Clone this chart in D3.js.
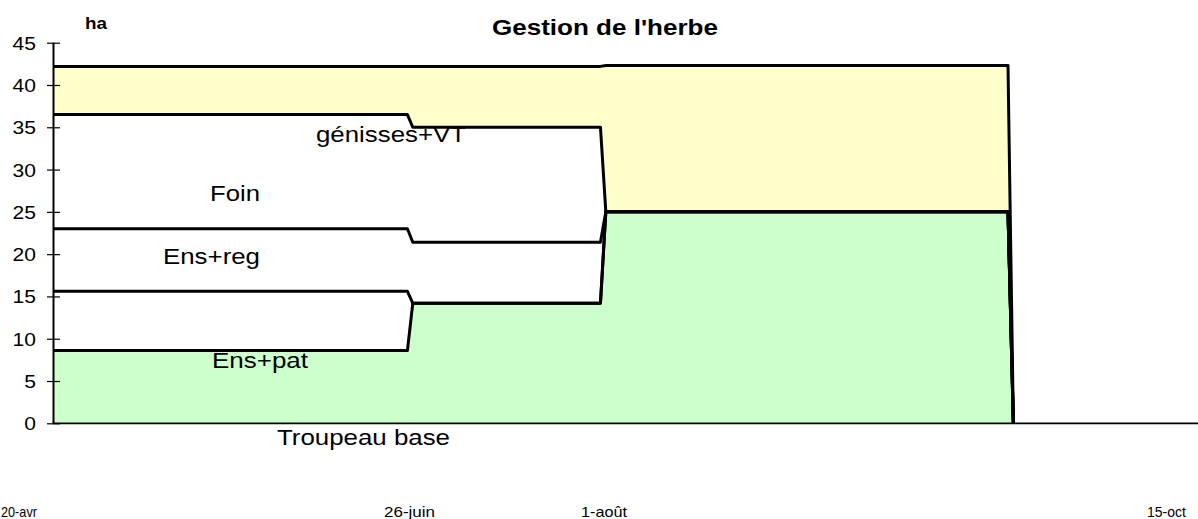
<!DOCTYPE html>
<html>
<head>
<meta charset="utf-8">
<script src="https://cdn.jsdelivr.net/npm/d3@7"></script>
<style>
  html, body { margin: 0; padding: 0; background: #fff; }
  svg { display: block; font-family: "Liberation Sans", Arial, sans-serif; }
</style>
</head>
<body>
<svg id="chart" width="1198" height="519"></svg>
<script>
// ---- data (days after 20-avr) ----
const days = [0, 66, 67, 102, 103, 178, 179];
const troupeauBase = [8.6, 8.6, 14.2, 14.2, 25.0, 25.0, 0];
const ensPat       = [7.0, 7.0, 0,    0,    0,    0,    0];
const ensReg       = [7.4, 7.4, 7.2,  7.2,  0,    0,    0];
const foin         = [13.5, 13.5, 13.6, 13.6, 0,  0,    0];
const genissesVT   = [5.7, 5.7, 7.2,  7.2,  17.3, 17.3, 0];
const seriesNames = ["Troupeau base", "Ens+pat", "Ens+reg", "Foin", "génisses+VT"];
const yTicks = [0, 5, 10, 15, 20, 25, 30, 35, 40, 45];
const xTickLabels = ["20-avr", "26-juin", "1-août", "15-oct"];
const title = "Gestion de l'herbe";
const yUnit = "ha";

// ---- styles / layout ----
const fills = ["#CCFFCC", "#FFFFFF", "#FFFFFF", "#FFFFFF", "#FFFFCC"];
const svg = d3.select("#chart");
const x = d3.scaleLinear().domain([0, 178]).range([53.5, 1008]);
const y = d3.scaleLinear().domain([0, 45]).range([423.3, 42.7]);

const rows = days.map((d, i) => ({
  day: d,
  [seriesNames[0]]: troupeauBase[i],
  [seriesNames[1]]: ensPat[i],
  [seriesNames[2]]: ensReg[i],
  [seriesNames[3]]: foin[i],
  [seriesNames[4]]: genissesVT[i]
}));
const stacked = d3.stack().keys(seriesNames)(rows);

const area = d3.area().x(d => x(d.data.day)).y0(d => y(d[0])).y1(d => y(d[1]));
const line = d3.line().x(d => x(d.data.day)).y(d => y(d[1]));

svg.append("g").selectAll("path").data(stacked).join("path")
  .attr("d", area).attr("fill", (d, i) => fills[i]).attr("stroke", "none");

// axes
const yAxis = d3.axisLeft(y).tickValues(yTicks).tickSize(0).tickPadding(0);
const gy = svg.append("g").attr("transform", `translate(${x(0)},0)`).call(yAxis);
gy.select(".domain").remove();
gy.selectAll(".tick line").attr("x1", -6.5).attr("x2", 6.5).attr("stroke", "#000").attr("stroke-width", 1.2);
gy.selectAll(".tick text")
  .attr("x", -15).attr("dy", "0.36em")
  .attr("transform", "scale(1.17,1)")
  .attr("font-size", 18).attr("fill", "#000")
  .attr("font-family", "'Liberation Sans', Arial, sans-serif");

svg.append("line").attr("x1", x(0)).attr("x2", x(0)).attr("y1", y(45)).attr("y2", y(0))
  .attr("stroke", "#000").attr("stroke-width", 2);
svg.append("line").attr("x1", x(0) - 1).attr("x2", 1198).attr("y1", y(0)).attr("y2", y(0))
  .attr("stroke", "#000").attr("stroke-width", 1.8);

// series boundary lines
svg.append("g").selectAll("path").data(stacked).join("path")
  .attr("d", line).attr("fill", "none").attr("stroke", "#000")
  .attr("stroke-width", 3).attr("stroke-linejoin", "round");

// text helper: place text so its left edge is at lx and width fits tw
function label(txt, lx, by, size, tw, bold) {
  svg.append("text").attr("x", lx).attr("y", by)
    .attr("font-size", size).attr("font-weight", bold ? "bold" : "normal")
    .attr("textLength", tw).attr("lengthAdjust", "spacingAndGlyphs")
    .attr("fill", "#000").text(txt);
}

label(title, 492, 35, 22, 226, true);
label(yUnit, 85, 29, 17, 22, true);

// area labels
label(seriesNames[4], 316, 142, 22, 150, false);
label(seriesNames[3], 210, 201, 22, 50, false);
label(seriesNames[2], 163, 264, 22, 97, false);
label(seriesNames[1], 212, 368, 22, 96, false);
label(seriesNames[0], 277, 445, 22, 173, false);

// x labels
const xLabelPos = [[1, 36], [384, 51], [581, 46], [1147, 39]];
xTickLabels.forEach((t, i) => label(t, xLabelPos[i][0], 517, 15, xLabelPos[i][1], false));
</script>
</body>
</html>
